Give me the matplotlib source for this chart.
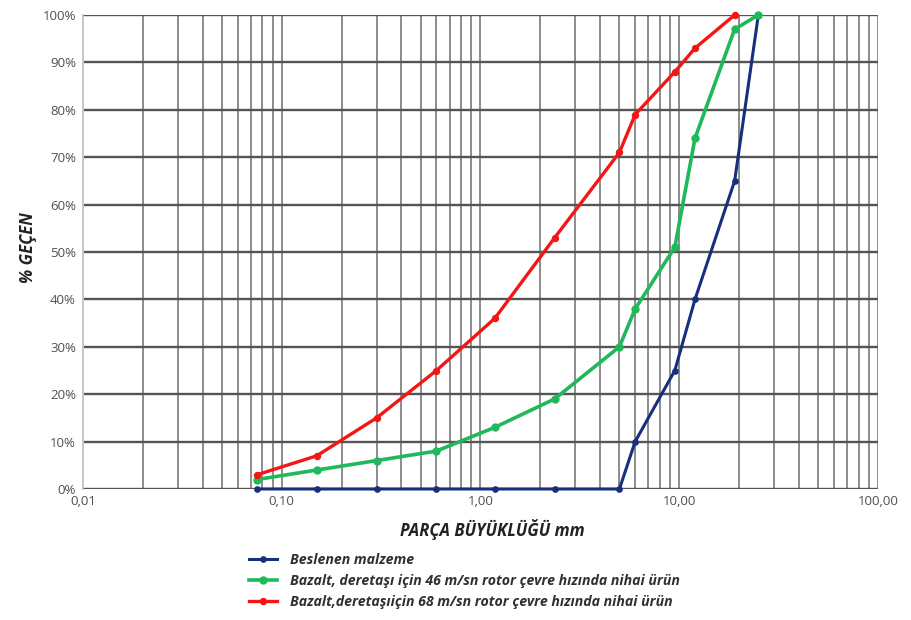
import matplotlib
matplotlib.use("Agg")
import matplotlib.pyplot as plt
from matplotlib.ticker import FixedLocator, FuncFormatter, NullFormatter

# Sieve sizes (mm) and cumulative percent passing for each material
sizes = [0.075, 0.15, 0.3, 0.6, 1.18, 2.36, 5, 6, 9.5, 12, 19, 25]
feed = [0, 0, 0, 0, 0, 0, 0, 10, 25, 40, 65, 100]
green_46 = [2, 4, 6, 8, 13, 19, 30, 38, 51, 74, 97, 100]
red_sizes = [0.075, 0.15, 0.3, 0.6, 1.18, 2.36, 5, 6, 9.5, 12, 19]
red_68 = [3, 7, 15, 25, 36, 53, 71, 79, 88, 93, 100]

labels = [
    "Beslenen malzeme",
    "Bazalt, deretaşı için 46 m/sn rotor çevre hızında nihai ürün",
    "Bazalt,deretaşıiçin 68 m/sn rotor çevre hızında nihai ürün",
]
x_major = [0.01, 0.1, 1, 10, 100]
x_major_labels = ["0,01", "0,10", "1,00", "10,00", "100,00"]
y_ticks = list(range(0, 101, 10))

plt.rcParams["font.family"] = ["Open Sans", "DejaVu Sans"]

fig = plt.figure(figsize=(9.12, 6.2), dpi=100)
ax = fig.add_axes([83 / 912, 1 - 489 / 620, (878 - 83) / 912, (489 - 15) / 620])

ax.set_xscale("log")
ax.set_xlim(0.01, 100)
ax.set_ylim(0, 100)

# log grid: decades plus 2..9 subdivisions
minor = [m * 10.0 ** e for e in range(-2, 2) for m in range(2, 10)]
ax.xaxis.set_major_locator(FixedLocator(x_major))
ax.xaxis.set_minor_locator(FixedLocator(minor))
ax.xaxis.set_major_formatter(FuncFormatter(lambda v, p: x_major_labels[x_major.index(v)] if v in x_major else ""))
ax.xaxis.set_minor_formatter(NullFormatter())
ax.set_yticks(y_ticks)
ax.yaxis.set_major_formatter(FuncFormatter(lambda v, p: f"{int(v)}%"))

ax.grid(True, axis="x", which="both", color="#8c8c8c", lw=1.4, zorder=0)
ax.grid(True, axis="y", which="major", color="#555555", lw=1.7, zorder=0)
ax.tick_params(axis="both", which="both", length=0, labelsize=9.5, labelcolor="#505050")
ax.tick_params(axis="y", pad=5)
ax.tick_params(axis="x", pad=4)

for s in ["top", "right", "bottom"]:
    ax.spines[s].set_visible(False)
ax.spines["left"].set_color("#c8c8c8")
ax.spines["left"].set_linewidth(1.4)

blue_c, green_c, red_c = "#172f7c", "#1fb85a", "#f21616"
ax.plot(sizes, feed, color=blue_c, lw=2.2, marker="o", ms=3.8, label=labels[0], clip_on=False, zorder=3)
ax.plot(sizes, green_46, color=green_c, lw=2.6, marker="o", ms=5, label=labels[1], clip_on=False, zorder=4)
ax.plot(red_sizes, red_68, color=red_c, lw=2.4, marker="o", ms=4.3, label=labels[2], clip_on=False, zorder=5)

ax.set_xlabel("PARÇA BÜYÜKLÜĞÜ mm", fontsize=12, fontweight="bold", fontstyle="italic",
              color="#222222")
ax.xaxis.set_label_coords((492 - 83) / (878 - 83), -30 / 474)
ax.set_ylabel("% GEÇEN", fontsize=12, fontweight="bold", fontstyle="italic",
              color="#222222")
ax.yaxis.set_label_coords(-(83 - 37) / (878 - 83), (489 - 248) / 474)

leg = fig.legend(loc="upper left", bbox_to_anchor=(236 / 912, 1 - 540 / 620), frameon=False,
                 handlelength=2.0, handletextpad=0.9, labelspacing=0.5, numpoints=1,
                 prop={"size": 10.2, "style": "italic", "weight": "bold"})
for t in leg.get_texts():
    t.set_color("#303030")

fig.savefig("out.png", dpi=100)
